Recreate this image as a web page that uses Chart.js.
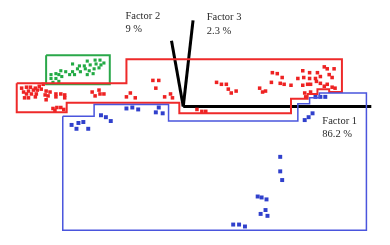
<!DOCTYPE html>
<html>
<head>
<meta charset="utf-8">
<script src="https://cdn.jsdelivr.net/npm/chart.js@4.4.0/dist/chart.umd.min.js"></script>
<style>
  body { margin: 0; background: #fff; }
  #chart { display: block; }
</style>
</head>
<body>
<canvas id="chart" width="390" height="245"></canvas>
<script>
// pontos (coordenadas do plano fatorial)
const greenPts = [
  [70,62],[85,59],[93,58],[98,58],[102,61],[77,64],[82,64],[88,63],[94,62],[99,63],
  [75,67],[83,67],[92,67],[97,66],[58,69],[63,70],[70,70],[78,70],[87,69],[53,72],
  [48,73],[56,73],[67,73],[72,73],[85,73],[91,72],[48,77],[53,77],[59,75],[50,81],[56,80]
];
const redPts = [
  [18,87],[23,86],[27,86],[32,87],[36,85],[40,83],[20,91],[25,90],[30,89],[34,89],
  [38,88],[43,90],[47,91],[23,93],[28,93],[33,93],[42,94],[45,95],[53,93],[58,93],
  [62,94],[21,97],[25,97],[32,96],[43,99],[53,96],[62,97],[50,108],[54,107],[58,107],
  [61,109],[52,110],[90,91],[97,89],[98,93],[102,93],[93,95],
  [152,79],[158,79],[155,87],[125,96],[129,92],[134,97],[164,96],[170,93],[172,97],
  [197,109],[202,111],[206,111],
  [217,81],[222,83],[227,83],[229,88],[232,92],[237,90],[261,87],[264,91],[267,90],
  [274,71],[279,72],[284,76],[273,81],[282,82],[286,83],[293,84],
  [305,69],[312,71],[306,76],[300,77],[312,77],[318,77],[320,71],[327,65],[330,67],
  [337,67],[332,73],[335,76],[323,75],[319,80],[323,82],[310,83],[305,84],[313,83],
  [330,83],[327,85],[335,86],[338,87],[307,92],[313,91],[308,96]
];
const bluePts = [
  [69,125],[76,123],[81,122],[74,129],[86,129],[99,115],[104,117],[109,121],
  [125,108],[131,107],[137,109],[155,112],[158,107],[162,113],
  [282,158],[282,173],[284,182],[259,199],[263,200],[268,202],[267,213],[262,217],
  [269,219],[234,228],[240,228],[246,230],
  [307,120],[311,117],[315,113],[318,96],[323,96],[328,96]
];

// contornos dos grupos
const greenBox = [[43,53],[108,53],[108,83],[43,83],[43,53]];
const redBox = [
  [13,82],[125,82],[125,57],[345,57],[345,91],[332,91],[332,88],[320,88],[320,93],
  [310,93],[310,98],[293,98],[293,113],[179,113],[179,102],[64,102],[64,112],[13,112],[13,82]
];
const blueBox = [
  [60,116],[92,116],[92,104],[168,104],[168,121],[300,121],[300,103],[312,103],
  [312,97],[322,97],[322,92],[370,92],[370,234],[60,234],[60,116]
];

// eixos fatoriais
const axis1 = [[183,106],[375,106]];
const axis2 = [[171,38],[183,106]];
const axis3 = [[193,17],[183,106]];

const labels = [
  { text: 'Factor 1', x: 325, y: 124 },
  { text: '86.2 %', x: 325, y: 137 },
  { text: 'Factor 2', x: 124, y: 15 },
  { text: '9 %', x: 124, y: 29 },
  { text: 'Factor 3', x: 207, y: 17 },
  { text: '2.3 %', x: 207, y: 31 }
];

const toXY = arr => arr.map(p => ({ x: p[0], y: p[1] }));

function outline(data, color, width) {
  return {
    data: toXY(data), showLine: true, borderColor: color, borderWidth: width,
    pointRadius: 0, fill: false, tension: 0, clip: false
  };
}
function dots(data, color, size) {
  return {
    data: toXY(data), showLine: false, pointStyle: 'rect', pointRadius: size,
    backgroundColor: color, borderWidth: 0, clip: false
  };
}

const textPlugin = {
  id: 'textos',
  afterDatasetsDraw(chart) {
    const { ctx, scales } = chart;
    ctx.save();
    ctx.font = '10.5px "Liberation Serif", "DejaVu Serif", serif';
    ctx.fillStyle = '#2a2a2a';
    ctx.textBaseline = 'alphabetic';
    labels.forEach(l => {
      ctx.fillText(l.text, scales.x.getPixelForValue(l.x), scales.y.getPixelForValue(l.y));
    });
    ctx.restore();
  }
};

new Chart(document.getElementById('chart'), {
  type: 'scatter',
  data: {
    datasets: [
      outline(blueBox, '#4a55dd', 1.5),
      outline(redBox, '#ee2a2a', 2),
      outline(greenBox, '#2aa84a', 2),
      dots(greenPts, '#22aa44', 2.2),
      dots(redPts, '#ee2222', 2.5),
      dots(bluePts, '#3040cc', 2.8),
      outline(axis1, '#000', 3),
      outline(axis2, '#000', 3),
      outline(axis3, '#000', 3)
    ]
  },
  options: {
    responsive: false,
    animation: false,
    layout: { padding: 0 },
    plugins: { legend: { display: false }, tooltip: { enabled: false } },
    scales: {
      x: { type: 'linear', min: 0, max: 390, display: false },
      y: { type: 'linear', min: 0, max: 245, reverse: true, display: false }
    }
  },
  plugins: [textPlugin]
});
</script>
</body>
</html>
